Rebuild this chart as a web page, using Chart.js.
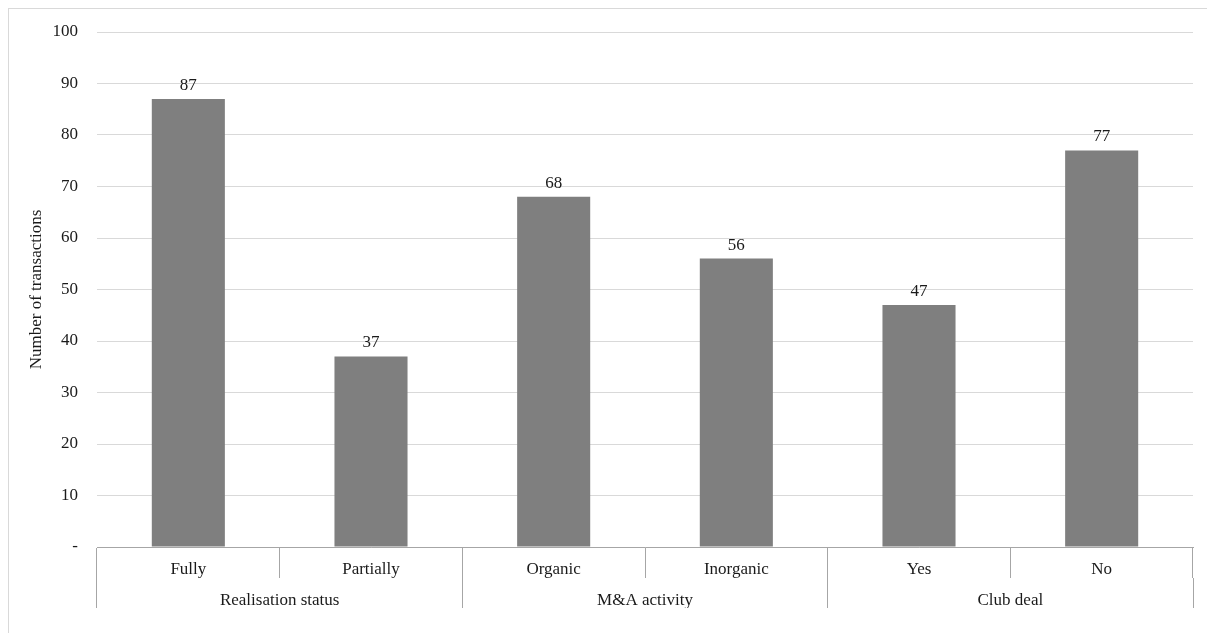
<!DOCTYPE html>
<html>
<head>
<meta charset="utf-8">
<script src="https://cdn.jsdelivr.net/npm/chart.js@4/dist/chart.umd.min.js"></script>
<style>
  body { margin: 0; background: #fff; }
  #wrap { position: relative; width: 1207px; height: 633px; }
  #frame { position: absolute; left: 8px; top: 8px; right: 0; bottom: 0;
           border-top: 1px solid #d9d9d9; border-left: 1px solid #d9d9d9; }
  canvas { position: absolute; left: 0; top: 0; }
</style>
</head>
<body>
<div id="wrap">
  <div id="frame"></div>
  <canvas id="chart" width="1207" height="633"></canvas>
</div>
<script>
// data
var categories = ['Fully', 'Partially', 'Organic', 'Inorganic', 'Yes', 'No'];
var groups = ['Realisation status', 'M&A activity', 'Club deal'];
var transactions = [87, 37, 68, 56, 47, 77];
var yTicks = [0, 10, 20, 30, 40, 50, 60, 70, 80, 90, 100];

var font = { family: "'Liberation Serif', 'Times New Roman', serif", size: 17 };
var lineColor = '#a6a6a6';

// values above the bars
var valueLabels = {
    id: 'valueLabels',
    afterDatasetsDraw: function (chart)
    {
        var ctx = chart.ctx;
        var meta = chart.getDatasetMeta(0);
        ctx.save();
        ctx.font = font.size + 'px ' + font.family;
        ctx.fillStyle = '#1a1a1a';
        ctx.textAlign = 'center';
        ctx.textBaseline = 'bottom';
        meta.data.forEach(function (bar, i)
        {
            ctx.fillText(transactions[i], bar.x, bar.y - 5);
        });
        ctx.restore();
    }
};

new Chart(document.getElementById('chart'),
    {
        type: 'bar',
        data:
        {
            labels: categories,
            datasets: [
                {
                    label: 'Number of transactions',
                    backgroundColor: '#7f7f7f',
                    data: transactions,
                    categoryPercentage: 1,
                    barPercentage: 0.4
                }
            ]
        },
        options:
        {
            responsive: false,
            animation: false,
            layout: { padding: { top: 32, right: 14, bottom: 25, left: 0 } },
            plugins:
            {
                legend: { display: false },
                tooltip: { enabled: false }
            },
            scales:
            {
                x:
                {
                    position: 'bottom',
                    offset: true,
                    grid: { offset: true, drawOnChartArea: false, tickLength: 31, color: lineColor },
                    border: { color: lineColor },
                    ticks: { font: font, color: '#1a1a1a', padding: -19, maxRotation: 0 },
                    afterFit: function (s) { s.height = 31; }
                },
                x2:
                {
                    type: 'category',
                    labels: groups,
                    position: 'bottom',
                    offset: true,
                    grid: { offset: true, drawOnChartArea: false, tickLength: 30, color: lineColor },
                    border: { display: false },
                    ticks: { font: font, color: '#1a1a1a', padding: -18, maxRotation: 0 },
                    afterFit: function (s) { s.height = 30; }
                },
                y:
                {
                    min: 0,
                    max: 100,
                    afterBuildTicks: function (s) { s.ticks = yTicks.map(function (v) { return { value: v }; }); },
                    grid: { color: '#d9d9d9', drawTicks: false },
                    border: { display: false },
                    ticks:
                    {
                        font: font,
                        color: '#1a1a1a',
                        padding: 19,
                        callback: function (v) { return v === 0 ? '-' : v; }
                    },
                    title:
                    {
                        display: true,
                        text: 'Number of transactions',
                        font: font,
                        color: '#1a1a1a',
                        padding: { top: 26, bottom: 0 }
                    },
                    afterFit: function (s) { s.width = 97; }
                }
            }
        },
        plugins: [valueLabels]
    });
</script>
</body>
</html>
